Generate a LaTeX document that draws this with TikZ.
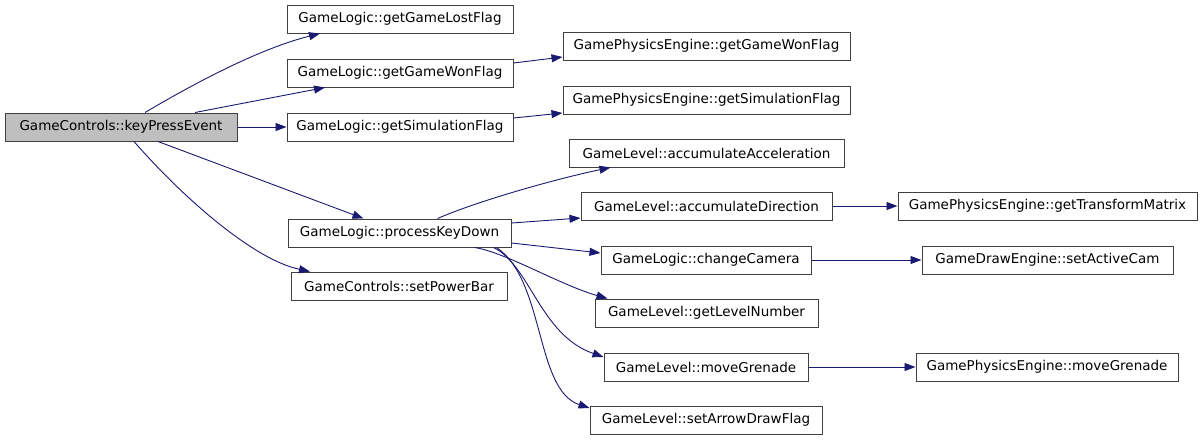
\documentclass[tikz,border=0pt]{standalone}
\usepackage{fontspec}
\setmainfont{DejaVu Sans}
\usetikzlibrary{arrows.meta}
\definecolor{edgeblue}{RGB}{25,25,112}
\definecolor{rootgray}{RGB}{191,191,191}

\begin{document}
\begin{tikzpicture}[x=1pt, y=-1pt,
    box/.style={rectangle, draw=black!75, line width=1pt, minimum height=28pt,
                inner sep=0pt, fill=white, font=\fontsize{13.5}{16}\selectfont},
    arr/.style={-{Triangle[length=11pt, width=8pt]}, line width=0.9pt, edgeblue}
]
    \useasboundingbox (0,0) rectangle (1203,440);

    % Caller
    \node[box, fill=rootgray, minimum width=232pt] (kpe) at (121,127) {GameControls::keyPressEvent};

    % First level
    \node[box, minimum width=226pt] (lost) at (400,19) {GameLogic::getGameLostFlag};
    \node[box, minimum width=226pt] (won) at (400,73) {GameLogic::getGameWonFlag};
    \node[box, minimum width=226pt] (sim) at (400,127) {GameLogic::getSimulationFlag};
    \node[box, minimum width=223pt] (pkd) at (399.5,233) {GameLogic::processKeyDown};
    \node[box, minimum width=216pt] (spb) at (399,286) {GameControls::setPowerBar};

    % Second level
    \node[box, minimum width=287pt] (pwon) at (706.5,46) {GamePhysicsEngine::getGameWonFlag};
    \node[box, minimum width=287pt] (psim) at (706.5,100) {GamePhysicsEngine::getSimulationFlag};
    \node[box, minimum width=275pt] (acc) at (706.5,153) {GameLevel::accumulateAcceleration};
    \node[box, minimum width=251pt] (acd) at (706.5,206) {GameLevel::accumulateDirection};
    \node[box, minimum width=210pt] (chc) at (706,260) {GameLogic::changeCamera};
    \node[box, minimum width=223pt] (gln) at (706.5,313) {GameLevel::getLevelNumber};
    \node[box, minimum width=204pt] (mvg) at (706,367) {GameLevel::moveGrenade};
    \node[box, minimum width=232pt] (sadf) at (706,420) {GameLevel::setArrowDrawFlag};

    % Third level
    \node[box, minimum width=299pt] (ptm) at (1047.5,206) {GamePhysicsEngine::getTransformMatrix};
    \node[box, minimum width=251pt] (sac) at (1047.5,260) {GameDrawEngine::setActiveCam};
    \node[box, minimum width=262pt] (pmg) at (1047,367) {GamePhysicsEngine::moveGrenade};

    % Calls from keyPressEvent
    \draw[arr] ([xshift=24pt]kpe.north) .. controls (200,80) and (262,48) .. ([xshift=-80pt]lost.south);
    \draw[arr] ([xshift=74pt]kpe.north) -- ([xshift=-75pt]won.south);
    \draw[arr] (kpe.east) -- (sim.west);
    \draw[arr] ([xshift=37pt]kpe.south) -- ([xshift=-36pt]pkd.north);
    \draw[arr] ([xshift=13pt]kpe.south) .. controls (185,200) and (255,260) .. ([xshift=-89pt]spb.north);

    % Calls into the physics engine
    \draw[arr] ([yshift=10pt]won.east) -- ([yshift=-11pt]pwon.west);
    \draw[arr] ([yshift=9pt]sim.east) -- ([yshift=-13pt]psim.west);

    % Calls from processKeyDown
    \draw[arr] ([xshift=38pt]pkd.north) .. controls (480,200) and (560,178) .. ([xshift=-96pt]acc.south);
    \draw[arr] ([yshift=10pt]pkd.east) -- ([yshift=-12pt]acd.west);
    \draw[arr] ([yshift=-10pt]pkd.east) -- ([yshift=7pt]chc.west);
    \draw[arr] ([xshift=75pt]pkd.south) .. controls (505,252) and (560,285) .. ([xshift=-99pt]gln.north);
    \draw[arr] ([xshift=94pt]pkd.south) .. controls (530,265) and (540,335) .. ([yshift=10pt]mvg.west);
    \draw[arr] ([xshift=97pt]pkd.south) .. controls (545,280) and (535,390) .. ([yshift=12pt]sadf.west);

    % Third level calls
    \draw[arr] (acd.east) -- (ptm.west);
    \draw[arr] (chc.east) -- (sac.west);
    \draw[arr] (mvg.east) -- (pmg.west);
\end{tikzpicture}
\end{document}
